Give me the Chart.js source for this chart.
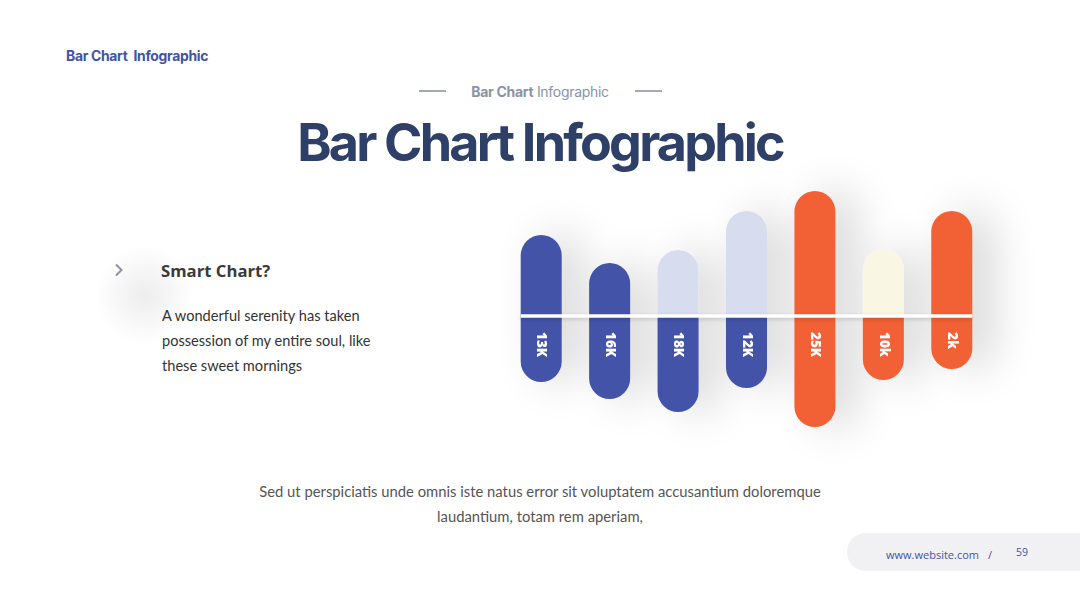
<!DOCTYPE html>
<html>
<head>
<meta charset="utf-8">
<script src="https://cdn.jsdelivr.net/npm/chart.js@4.4.1/dist/chart.umd.min.js"></script>
<style>
  html, body { margin:0; padding:0; background:#fff; }
  body { width:1080px; height:608px; position:relative; overflow:hidden; font-family:"Open Sans", sans-serif; }
  .abs { position:absolute; white-space:nowrap; }
  #corner { left:66px; top:48px; font-family:Inter, sans-serif; font-weight:700; font-size:13.9px; color:#4252a7; letter-spacing:-0.3px; }
  #sub { left:0; width:1080px; text-align:center; top:83px; font-family:Inter, sans-serif; font-size:14px; color:#8a93a6; letter-spacing:-0.3px; }
  #sub b { font-weight:700; }
  .dash { position:absolute; top:90px; height:2px; width:27px; background:#a3a9ba; }
  #title { left:0; width:1080px; text-align:center; top:117px; font-family:Inter, sans-serif; font-weight:700; font-size:52px; line-height:52px; color:#2f4068; letter-spacing:-2.8px; }
  #glow { left:95px; top:245px; width:100px; height:100px; border-radius:50%; background:radial-gradient(circle, rgba(0,0,0,0.07) 0%, rgba(0,0,0,0.03) 40%, rgba(0,0,0,0) 70%); }
  #chev { left:114px; top:263px; }
  #smart { left:161px; top:259px; font-family:"Open Sans", sans-serif; font-weight:700; font-size:16.7px; color:#3a3a3a; }
  #para { left:162px; top:303px; font-family:Lato, sans-serif; font-size:14.6px; line-height:25px; color:#333; }
  #bottom { left:0; width:1080px; text-align:center; top:479px; font-family:Lato, sans-serif; font-size:14.8px; line-height:25px; color:#555; }
  #pill { left:847px; top:533px; width:260px; height:38px; border-radius:19px; background:#f1f1f3; }
  #web { left:886px; top:547px; font-family:"Open Sans", sans-serif; font-size:11px; color:#4252a7; }
  #slash { left:988px; top:547px; font-family:"Open Sans", sans-serif; font-size:11px; color:#4252a7; }
  #pg { left:1016px; top:545px; font-family:"Open Sans", sans-serif; font-size:10.5px; color:#4252a7; }
  #chartWrap { position:absolute; left:440px; top:150px; width:640px; height:320px; }
</style>
</head>
<body>
<div class="abs" id="corner">Bar Chart&nbsp; Infographic</div>
<div class="dash" style="left:419px"></div>
<div class="dash" style="left:635px"></div>
<div class="abs" id="sub"><b>Bar Chart</b> Infographic</div>
<div class="abs" id="title">Bar Chart Infographic</div>
<div class="abs" id="glow"></div>
<svg class="abs" id="chev" width="10" height="14" viewBox="0 0 10 14"><polyline points="2,1.5 7.5,7 2,12.5" fill="none" stroke="#8a93a6" stroke-width="2"/></svg>
<div class="abs" id="smart">Smart Chart?</div>
<div class="abs" id="para">A wonderful serenity has taken<br>possession of my entire soul, like<br>these sweet mornings</div>
<div class="abs" id="bottom">Sed ut perspiciatis unde omnis iste natus error sit voluptatem accusantium doloremque<br>laudantium, totam rem aperiam,</div>
<div class="abs" id="pill"></div>
<div class="abs" id="web">www.website.com</div>
<div class="abs" id="slash">/</div>
<div class="abs" id="pg">59</div>
<div id="chartWrap"><canvas id="c" width="640" height="320"></canvas></div>
<script>
// ---- data ----
const categories = ['13K', '16K', '18K', '12K', '25K', '10k', '2k'];
const valueLabels = ['13K', '16K', '18K', '12K', '25K', '10k', '2k'];
const upperValues = [81, 53, 66, 105, 125, 67, 105];
const lowerValues = [66, 83, 96, 72, 111, 64, 53];

// ---- styles ----
const BLUE = '#4353a8', LAV = '#d8dcef', ORANGE = '#f26135', CREAM = '#f9f7e3';
const upperColors = [BLUE, BLUE, LAV, LAV, ORANGE, CREAM, ORANGE];
const lowerColors = [BLUE, BLUE, BLUE, BLUE, ORANGE, ORANGE, ORANGE];

const barDecor = {
  id: 'barDecor',
  beforeDatasetsDraw(chart) {
    const ctx = chart.ctx;
    const lo = chart.getDatasetMeta(0).data, up = chart.getDatasetMeta(1).data;
    ctx.save();
    ctx.shadowColor = 'rgba(0,0,0,0.17)';
    ctx.shadowBlur = 44;
    ctx.shadowOffsetX = 20;
    ctx.shadowOffsetY = 0;
    ctx.fillStyle = '#ffffff';
    for (let i = 0; i < up.length; i++) {
      const u = up[i].getProps(['x', 'y', 'base', 'width'], true);
      const l = lo[i].getProps(['x', 'y', 'base', 'width'], true);
      const top = Math.min(u.y, u.base), bot = Math.max(l.y, l.base);
      ctx.beginPath();
      ctx.roundRect(u.x - u.width / 2, top, u.width, bot - top, u.width / 2);
      ctx.fill();
    }
    ctx.restore();
  },
  afterDatasetsDraw(chart) {
    const ctx = chart.ctx;
    const lo = chart.getDatasetMeta(0).data;
    const y0 = chart.scales.y.getPixelForValue(0);
    const first = lo[0].getProps(['x', 'width'], true), last = lo[lo.length - 1].getProps(['x', 'width'], true);
    ctx.save();
    ctx.shadowColor = 'rgba(0,0,0,0.18)';
    ctx.shadowBlur = 4;
    ctx.shadowOffsetY = 1.5;
    ctx.strokeStyle = '#ffffff';
    ctx.lineWidth = 3.5;
    ctx.beginPath();
    ctx.moveTo(first.x - first.width / 2, y0);
    ctx.lineTo(last.x + last.width / 2, y0);
    ctx.stroke();
    ctx.restore();
    ctx.save();
    ctx.fillStyle = '#ffffff';
    ctx.font = '800 13.5px "Open Sans"';
    ctx.textAlign = 'left';
    ctx.textBaseline = 'middle';
    lo.forEach((el, i) => {
      const p = el.getProps(['x'], true);
      ctx.save();
      ctx.translate(p.x, y0 + 16);
      ctx.rotate(Math.PI / 2);
      ctx.fillText(valueLabels[i], 0, 0);
      ctx.restore();
    });
    ctx.restore();
  }
};

new Chart(document.getElementById('c'), {
  type: 'bar',
  data: {
    labels: categories,
    datasets: [
      {
        data: lowerValues.map(v => [-v, 0]),
        backgroundColor: lowerColors,
        borderSkipped: false,
        borderRadius: { topLeft: 0, topRight: 0, bottomLeft: 21, bottomRight: 21 },
        grouped: false,
        barPercentage: 0.6,
        categoryPercentage: 1
      },
      {
        data: upperValues.map(v => [0, v]),
        backgroundColor: upperColors,
        borderSkipped: false,
        borderRadius: { topLeft: 21, topRight: 21, bottomLeft: 0, bottomRight: 0 },
        grouped: false,
        barPercentage: 0.6,
        categoryPercentage: 1
      }
    ]
  },
  options: {
    responsive: false,
    animation: false,
    devicePixelRatio: 1,
    layout: { padding: { left: 67, right: 94, top: 30, bottom: 30 } },
    plugins: { legend: { display: false }, tooltip: { enabled: false } },
    scales: {
      x: { display: false },
      y: { display: false, min: -124, max: 136 }
    }
  },
  plugins: [barDecor]
});
</script>
</body>
</html>
